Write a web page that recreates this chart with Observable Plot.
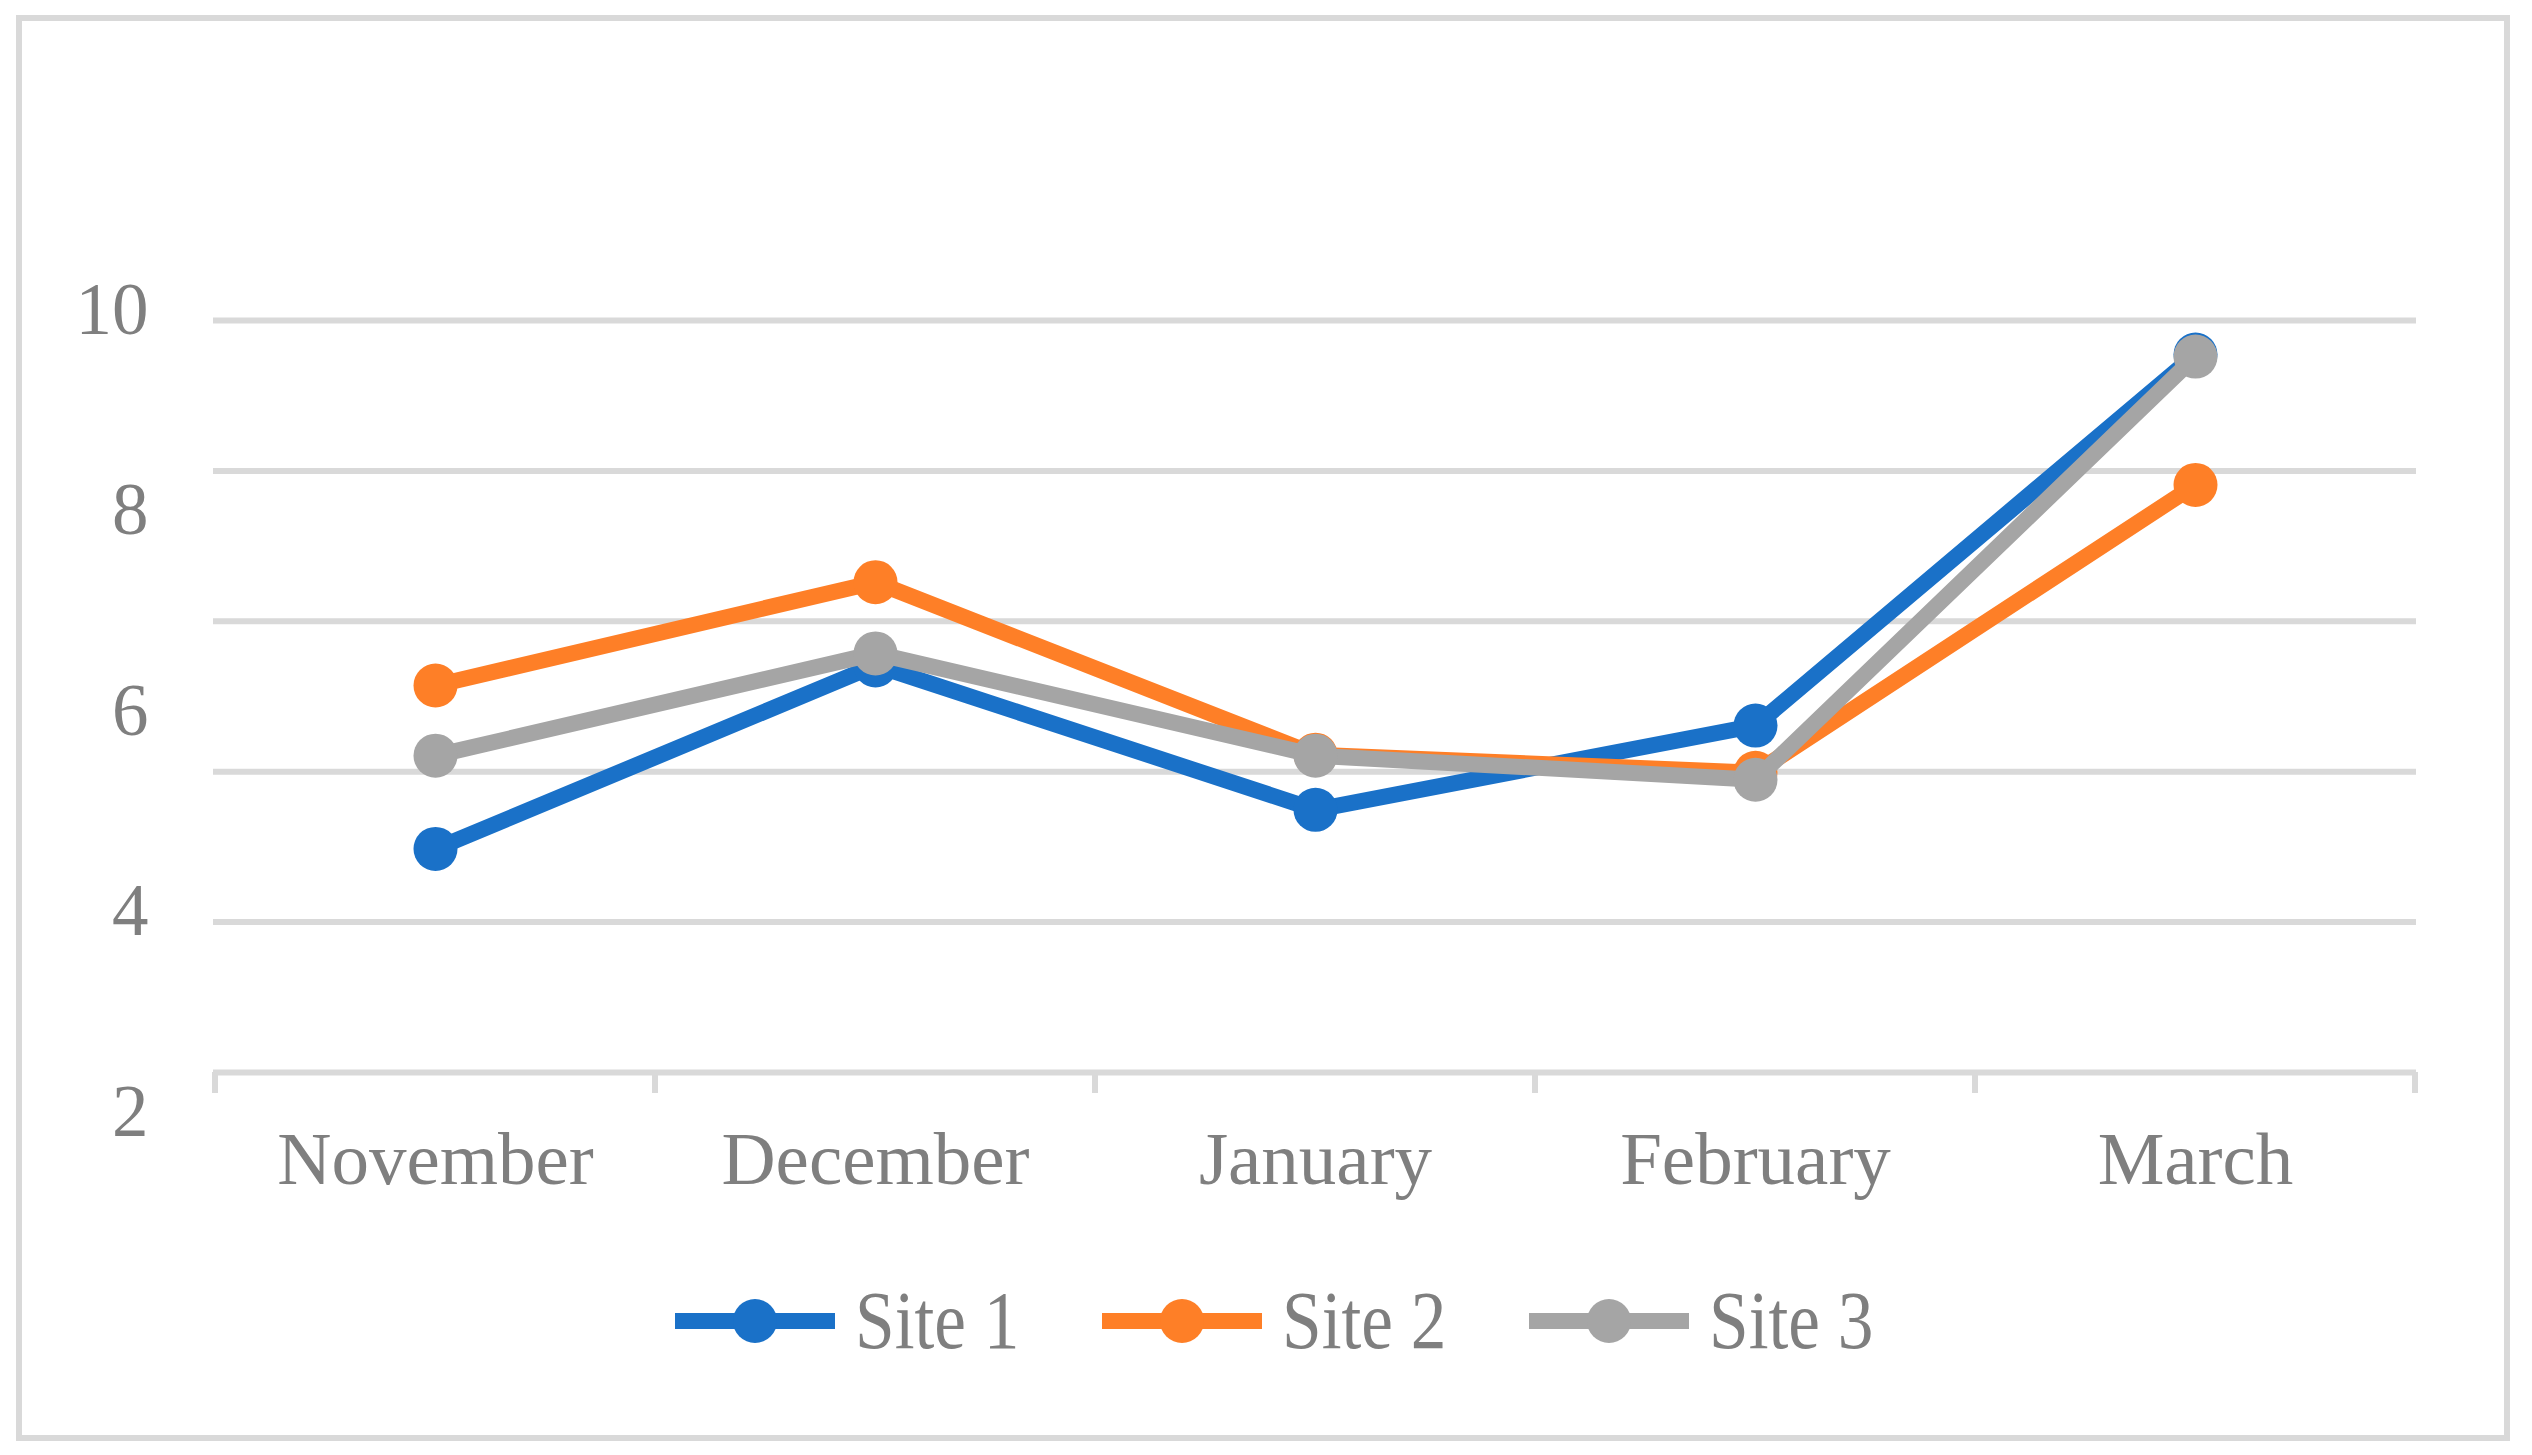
<!DOCTYPE html>
<html>
<head>
<meta charset="utf-8">
<script src="https://cdn.jsdelivr.net/npm/d3@7"></script>
<script src="https://cdn.jsdelivr.net/npm/@observablehq/plot@0.6"></script>
<style>
html, body { margin: 0; padding: 0; background: #fff; }
body { width: 2532px; height: 1455px; position: relative; overflow: hidden; font-family: "Liberation Serif", "Times New Roman", serif; }
#frame { position: absolute; left: 16px; top: 15px; width: 2494px; height: 1426px; border: 6px solid #d9d9d9; box-sizing: border-box; background: #fff; }
#chart svg { display: block; }
#legend { display: flex; align-items: center; margin-left: 653px; margin-top: 60px; height: 80px; }
.item { display: flex; align-items: center; margin-right: 80px; }
.item span { display: inline-block; font-size: 82px; color: #7f7f7f; margin-left: 20px; line-height: 1; white-space: nowrap; transform: scaleX(0.87); transform-origin: left center; margin-right: -22px; }
</style>
</head>
<body>
<div id="frame"><div id="chart"></div><div id="legend"></div></div>
<script>
// ---- data ----
const months = ["November", "December", "January", "February", "March"];
const site1 = [4.73, 6.56, 5.12, 5.96, 9.66];
const site2 = [6.36, 7.39, 5.67, 5.49, 8.36];
const site3 = [5.66, 6.68, 5.66, 5.42, 9.64];
const seriesNames = ["Site 1", "Site 2", "Site 3"];
const seriesColors = ["#1a71c8", "#fe7f27", "#a5a5a5"];
const gridValues = [2.5, 4, 5.5, 7, 8.5, 10];
const yTickLabels = [2, 4, 6, 8, 10];

const seriesValues = [site1, site2, site3];
const rows = [];
seriesNames.forEach((s, si) => months.forEach((m, mi) => rows.push({series: s, month: m, value: seriesValues[si][mi]})));

const textColor = "#7f7f7f";
const gridColor = "#d9d9d9";
const fontFamily = '"Liberation Serif", "Times New Roman", serif';

// tick marks at the category boundaries
const boundaryTicks = (index, scales) => {
  const x = scales.x, y = scales.y;
  const step = x(months[1]) - x(months[0]);
  const edges = months.map(m => x(m)).concat([x(months[months.length - 1]) + step]);
  const y0 = y(gridValues[0]);
  const g = d3.create("svg:g");
  g.selectAll("line").data(edges).join("line")
    .attr("x1", d => d).attr("x2", d => d)
    .attr("y1", y0).attr("y2", y0 + 21)
    .attr("stroke", gridColor).attr("stroke-width", 6);
  return g.node();
};

const seriesMarks = seriesNames.flatMap(s => {
  const data = rows.filter(r => r.series === s);
  return [
    Plot.line(data, {x: "month", y: "value", stroke: "series", strokeWidth: 16, strokeLinejoin: "round"}),
    Plot.dot(data, {x: "month", y: "value", fill: "series", r: 22, stroke: "none"})
  ];
});

const chart = Plot.plot({
  width: 2482,
  height: 1200,
  marginLeft: 191,
  marginRight: 88,
  marginTop: 299,
  marginBottom: 149,
  style: {fontFamily, fontSize: "74px", color: textColor, background: "white", overflow: "visible"},
  x: {type: "band", domain: months, padding: 0, axis: null},
  y: {domain: [2.5, 10], axis: null},
  color: {domain: seriesNames, range: seriesColors},
  marks: [
    Plot.ruleY(gridValues, {stroke: gridColor, strokeWidth: 6}),
    boundaryTicks,
    Plot.axisX({tickSize: 0, tickPadding: 58, fill: textColor, fontSize: 75, label: null}),
    Plot.text(yTickLabels, {y: d => d, text: d => String(d), frameAnchor: "left", textAnchor: "end", dx: -65, dy: -10, fill: textColor, fontSize: 73}),
    ...seriesMarks
  ]
});
document.getElementById("chart").appendChild(chart);

// legend
const legend = d3.select("#legend");
seriesNames.forEach((s, i) => {
  const item = legend.append("div").attr("class", "item");
  const sw = item.append("svg").attr("width", 160).attr("height", 50);
  sw.append("line").attr("x1", 0).attr("x2", 160).attr("y1", 25).attr("y2", 25)
    .attr("stroke", seriesColors[i]).attr("stroke-width", 16);
  sw.append("circle").attr("cx", 80).attr("cy", 25).attr("r", 22).attr("fill", seriesColors[i]);
  item.append("span").text(s);
});
</script>
</body>
</html>
